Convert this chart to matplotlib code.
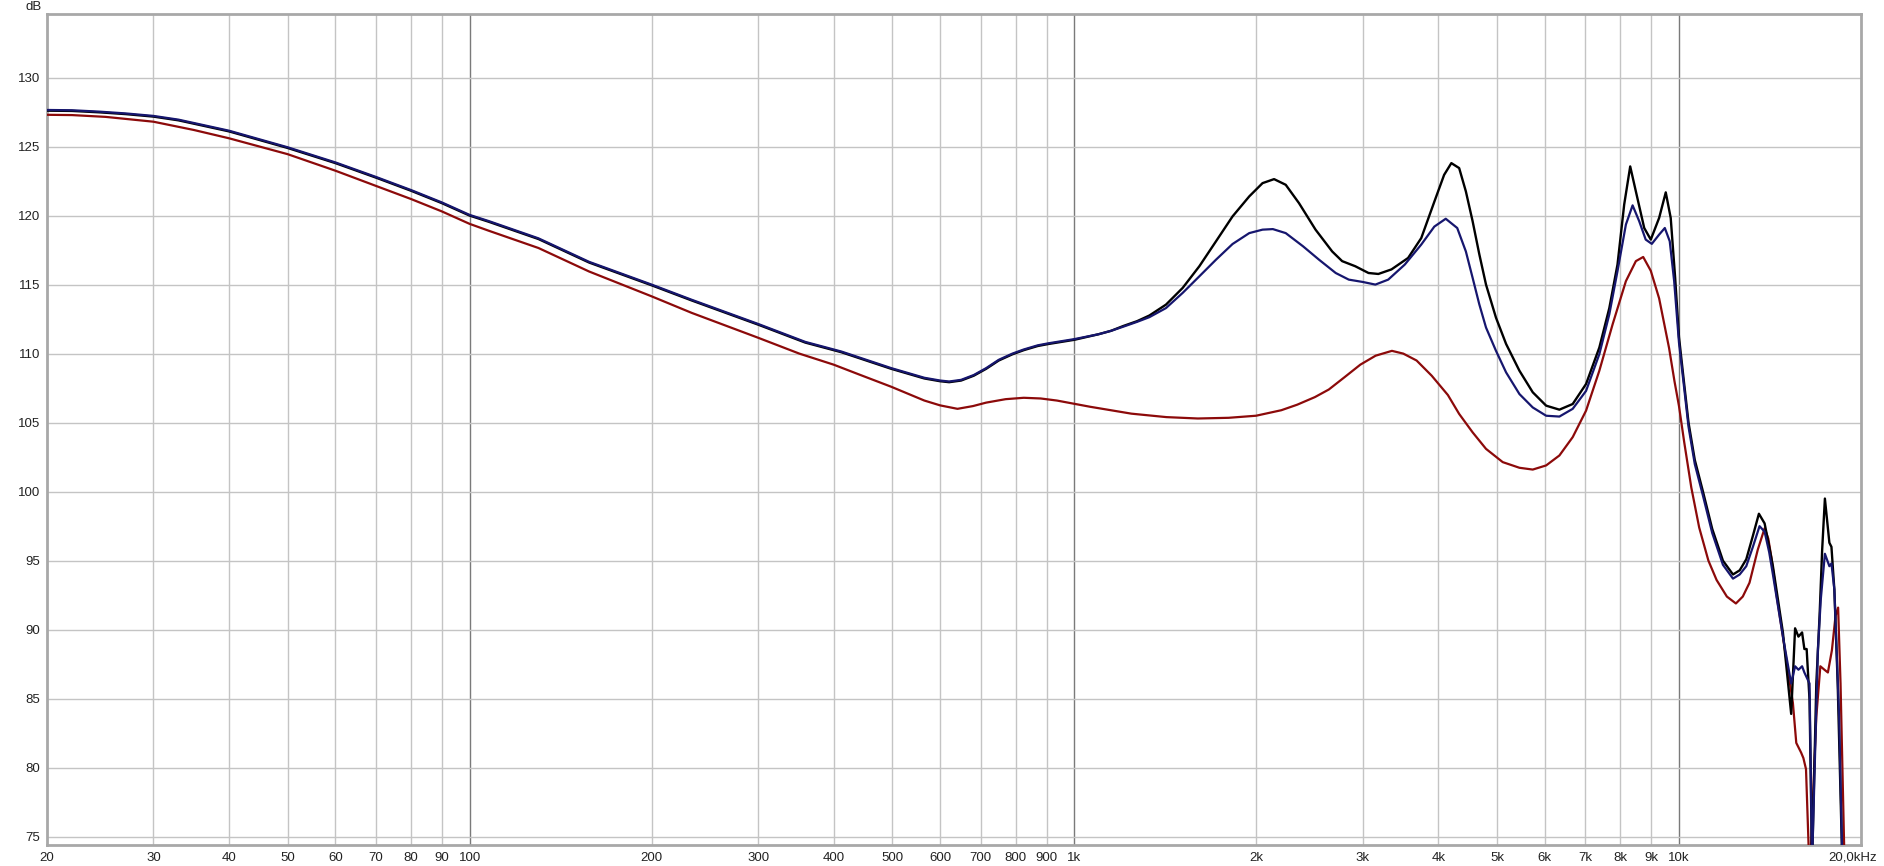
import matplotlib
matplotlib.use("Agg")
import matplotlib.pyplot as plt
from matplotlib.ticker import FixedLocator, NullFormatter, NullLocator

plt.rcParams['font.family'] = ['Liberation Sans Narrow', 'Liberation Sans', 'DejaVu Sans']

# frequency response readings (Hz, dB)
black_f = [20, 22, 24.4, 27, 30, 33, 35.9, 40, 50, 60, 70, 80, 90, 100, 107.6, 130, 157.6, 200,
           233, 300, 359, 412, 498, 565, 600, 621, 650, 682, 715, 750, 790, 825, 870, 907, 1000,
           1096, 1150, 1205, 1270, 1331, 1418, 1511, 1610, 1715, 1827, 1947, 2048, 2140, 2237,
           2353, 2506, 2670, 2773, 2915, 3066, 3183, 3346, 3565, 3748, 3939, 4089, 4203, 4330,
           4442, 4557, 4675, 4796, 4982, 5177, 5447, 5730, 6030, 6342, 6672, 7020, 7384, 7670,
           7913, 8117, 8305, 8486, 8760, 8982, 9272, 9509, 9690, 9855, 10000, 10200, 10370,
           10620, 10957, 11350, 11822, 12283, 12600, 12920, 13250, 13557, 13855, 14100,
           14300, 14855, 15330, 15560, 15760, 15980, 16120, 16260, 16440, 16600, 16870, 17080,
           17250, 17430, 17730, 17870, 18070, 18300, 18700]
black_db = [127.6, 127.58, 127.48, 127.35, 127.17, 126.9, 126.55, 126.1, 124.9, 123.8, 122.75,
            121.8, 120.9, 120.0, 119.55, 118.3, 116.6, 114.95, 113.85, 112.1, 110.8, 110.1,
            108.9, 108.2, 108.0, 107.93, 108.05, 108.4, 108.9, 109.5, 109.95, 110.25, 110.55,
            110.7, 111.0, 111.4, 111.65, 112.0, 112.35, 112.76, 113.55, 114.76, 116.33, 118.13,
            119.94, 121.39, 122.35, 122.64, 122.23, 120.9, 118.98, 117.4, 116.7, 116.33, 115.84,
            115.77, 116.1, 116.93, 118.37, 121.0, 122.95, 123.8, 123.44, 121.75, 119.6, 117.2,
            115.0, 112.6, 110.7, 108.76, 107.2, 106.23, 105.94, 106.35, 107.8, 110.44, 113.3,
            116.46, 120.8, 123.56, 121.75, 119.1, 118.26, 119.83, 121.68, 119.83, 115.5, 111.2,
            107.8, 105.0, 102.3, 100.0, 97.3, 95.0, 94.0, 94.3, 95.1, 96.8, 98.4, 97.7,
            96.0, 94.6, 89.8, 83.9, 90.1, 89.5, 89.8, 88.6, 88.6, 84.9, 73.0, 86.1, 91.0, 95.8,
            99.5, 96.3, 96.0, 92.9, 86.1, 70.0]

navy_f = [20, 22, 24.4, 27, 30, 33, 35.9, 40, 50, 60, 70, 80, 90, 100, 107.6, 130, 157.6, 200,
          233, 300, 359, 412, 498, 565, 600, 621, 650, 682, 715, 750, 790, 825, 870, 907, 1000,
          1096, 1150, 1205, 1270, 1331, 1418, 1511, 1610, 1715, 1827, 1947, 2048, 2130, 2237,
          2390, 2540, 2706, 2844, 3000, 3147, 3305, 3520, 3748, 3939, 4114, 4298, 4442, 4557,
          4675, 4796, 4982, 5177, 5447, 5730, 6030, 6342, 6672, 7020, 7384, 7670, 7913, 8170,
          8381, 8593, 8810, 9017, 9272, 9475, 9654, 9818, 10000, 10200, 10370, 10620, 10957,
          11350, 11822, 12283, 12600, 12920, 13250, 13590, 13855, 14100, 14300, 14855,
          15330, 15560, 15760, 15980, 16120, 16440, 16600, 16970, 17160, 17430, 17730, 17870,
          18070, 18400, 18700]
navy_db = [127.65, 127.63, 127.53, 127.4, 127.22, 126.95, 126.6, 126.15, 124.95, 123.85, 122.8,
           121.85, 120.95, 120.05, 119.6, 118.35, 116.65, 115.0, 113.9, 112.15, 110.85, 110.15,
           108.95, 108.25, 108.05, 107.98, 108.1, 108.45, 108.95, 109.55, 110.0, 110.3, 110.6,
           110.75, 111.05, 111.4, 111.65, 111.95, 112.3, 112.64, 113.3, 114.4, 115.6, 116.8,
           117.94, 118.73, 118.98, 119.02, 118.73, 117.77, 116.8, 115.84, 115.36, 115.19, 115.0,
           115.36, 116.45, 117.9, 119.2, 119.77, 119.1, 117.4, 115.5, 113.57, 111.89, 110.2,
           108.64, 107.07, 106.1, 105.5, 105.44, 106.0, 107.3, 109.96, 112.85, 115.98, 119.35,
           120.74, 119.6, 118.26, 117.95, 118.62, 119.1, 118.14, 115.25, 110.8, 107.5, 104.7,
           102.0, 99.7, 97.0, 94.7, 93.7, 94.0, 94.6, 96.0, 97.5, 97.1, 95.6, 94.0, 89.5,
           86.1, 87.35, 87.1, 87.35, 86.9, 86.1, 73.0, 88.5, 92.2, 95.5, 94.6, 94.8, 92.9, 83.7,
           70.0]

red_f = [20, 22, 25, 30, 35, 40, 50, 60, 70, 80, 90, 100, 107.6, 130, 157.6, 200, 233, 300, 351,
         400, 440, 498, 565, 600, 641, 680, 715, 770, 825, 880, 936, 1062, 1243, 1420, 1601, 1800,
         1998, 2200, 2337, 2500, 2636, 2800, 2972, 3150, 3352, 3500, 3682, 3900, 4148, 4330, 4557,
         4796, 5111, 5447, 5730, 6030, 6342, 6672, 7020, 7384, 7768, 8170, 8486, 8726, 8982, 9272,
         9630, 9830, 10000, 10200, 10480, 10800, 11186, 11540, 12000, 12420, 12750, 13080, 13500,
         13855, 14050, 14210, 14500, 14855, 15430, 15630, 15920, 16060, 16220, 16450, 16870,
         17130, 17400, 17630, 17900, 18150, 18330, 18500, 18850]
red_db = [127.3, 127.28, 127.15, 126.8, 126.2, 125.6, 124.45, 123.25, 122.15, 121.2, 120.3, 119.4,
          118.9, 117.65, 115.95, 114.15, 112.95, 111.15, 110.0, 109.2, 108.5, 107.6, 106.6, 106.25,
          106.0, 106.2, 106.45, 106.7, 106.8, 106.75, 106.6, 106.15, 105.65, 105.4, 105.3, 105.35,
          105.5, 105.9, 106.3, 106.85, 107.4, 108.3, 109.2, 109.85, 110.2, 110.0, 109.5, 108.4,
          107.0, 105.63, 104.3, 103.1, 102.14, 101.73, 101.6, 101.9, 102.62, 103.95, 105.87,
          108.76, 112.13, 115.25, 116.7, 117.0, 116.0, 114.0, 110.4, 108.0, 106.2, 103.6, 100.3,
          97.4, 95.0, 93.6, 92.4, 91.9, 92.4, 93.4, 95.8, 97.35, 96.6, 95.3, 92.5, 89.5, 84.7,
          81.8, 81.1, 80.7, 79.9, 72.0, 83.7, 87.35, 87.1, 86.9, 88.5, 91.0, 91.6, 86.1, 70.0]

x_major = [100, 1000, 10000]
x_minor = [30, 40, 50, 60, 70, 80, 90, 200, 300, 400, 500, 600, 700, 800, 900,
           2000, 3000, 4000, 5000, 6000, 7000, 8000, 9000]
x_ticks = [20, 30, 40, 50, 60, 70, 80, 90, 100, 200, 300, 400, 500, 600, 700, 800, 900,
           1000, 2000, 3000, 4000, 5000, 6000, 7000, 8000, 9000, 10000]
x_labels = ['20', '30', '40', '50', '60', '70', '80', '90', '100', '200', '300', '400', '500',
            '600', '700', '800', '900', '1k', '2k', '3k', '4k', '5k', '6k', '7k', '8k', '9k', '10k']
y_ticks = [75, 80, 85, 90, 95, 100, 105, 110, 115, 120, 125, 130]

fig = plt.figure(figsize=(18.84, 8.66), dpi=100)
ax = fig.add_axes([0.0249, 0.0242, 0.9629, 0.9596])

for v in x_minor:
    ax.axvline(v, color='#c4c4c4', lw=1.0, zorder=1)
for v in x_major:
    ax.axvline(v, color='#7a7a7a', lw=1.0, zorder=1)
for v in y_ticks:
    ax.axhline(v, color='#c4c4c4', lw=1.0, zorder=1)

ax.semilogx(red_f, red_db, color='#8c0a0a', lw=1.6, zorder=3, solid_joinstyle='round')
ax.semilogx(black_f, black_db, color='#000000', lw=1.7, zorder=4, solid_joinstyle='round')
ax.semilogx(navy_f, navy_db, color='#16166e', lw=1.6, zorder=5, solid_joinstyle='round')

ax.set_xlim(20, 20000)
ax.set_ylim(74.4, 134.6)

ax.xaxis.set_major_locator(FixedLocator(x_ticks))
ax.set_xticklabels(x_labels)
ax.xaxis.set_minor_locator(NullLocator())
ax.xaxis.set_minor_formatter(NullFormatter())
ax.set_yticks(y_ticks)
ax.set_yticklabels([str(v) for v in y_ticks])
ax.tick_params(axis='both', length=0, labelsize=9.5, colors='#222222')
ax.tick_params(axis='x', pad=5)
ax.tick_params(axis='y', pad=5)

for s in ax.spines.values():
    s.set_color('#a8a8a8')
    s.set_linewidth(2.0)

ax.annotate('dB', xy=(0, 1), xycoords='axes fraction', xytext=(-5, 7),
            textcoords='offset pixels', ha='right', va='center', fontsize=9.5, color='#222222')
ax.annotate('20,0kHz', xy=(1, 0), xycoords='axes fraction', xytext=(16, -6),
            textcoords='offset pixels', ha='right', va='top', fontsize=9.5, color='#222222')

fig.savefig('out.png', dpi=100, facecolor='white')
